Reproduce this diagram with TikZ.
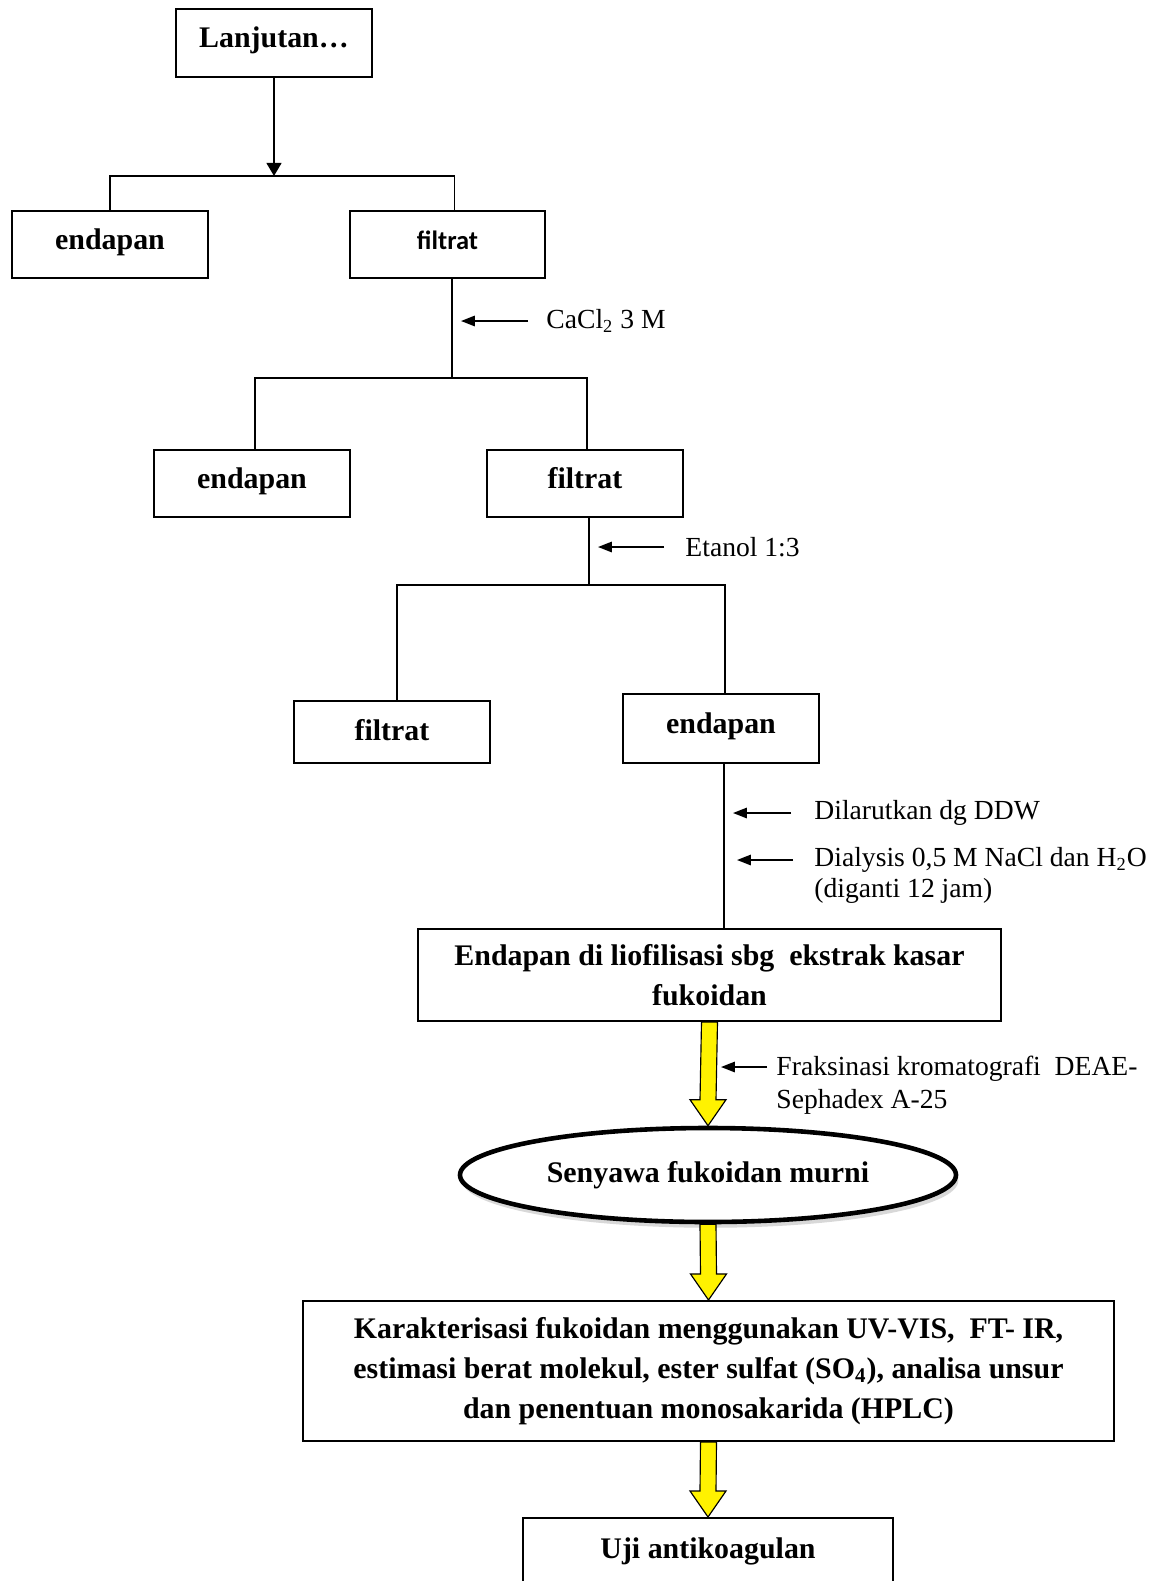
\documentclass[tikz,border=0pt]{standalone}
\usepackage{fontspec}
\setmainfont{Liberation Serif}
\newfontfamily\calibri{Carlito}
\usetikzlibrary{shapes.geometric, arrows.meta, positioning, shadows}
\newdimen\pxu
\pxu=0.4348pt

\newcommand{\yellowarrow}[2]{%
  \draw[yarrow] ([xshift=-8\pxu]#1) -- ([xshift=-8\pxu,yshift=26\pxu]#2) -- ([xshift=-18\pxu,yshift=26\pxu]#2) -- (#2)
    -- ([xshift=18\pxu,yshift=26\pxu]#2) -- ([xshift=8\pxu,yshift=26\pxu]#2) -- ([xshift=8\pxu]#1) -- cycle;}

\begin{document}
\begin{tikzpicture}[
    x=0.4348pt, y=-0.4348pt,
    box/.style={rectangle, draw, line width=0.9pt, inner sep=0pt, font=\bfseries\fontsize{13}{17.4}\selectfont, text height=9pt, text depth=5pt},
    bigbox/.style={rectangle, draw, line width=0.9pt, inner sep=0pt, align=center, font=\bfseries\fontsize{13}{17.4}\selectfont},
    note/.style={anchor=west, inner sep=0pt, align=left, font=\fontsize{12}{13.5}\selectfont},
    arrow/.style={-{Triangle[length=5.7pt,width=6.5pt]}, line width=0.75pt},
    sidearrow/.style={-{Triangle[length=6pt,width=4.5pt]}, line width=0.75pt},
    line/.style={line width=0.75pt},
    yarrow/.style={draw, fill=yellow, line width=0.5pt}
]
\fill[white] (0,0) rectangle (1157,1581);
\clip (0,0) rectangle (1157,1581);

\node[box, minimum width=196\pxu, minimum height=68\pxu] (lanjut) at (274,43) {Lanjutan…};
\node[box, minimum width=196\pxu, minimum height=67\pxu] (endapan1) at (110,244.5) {endapan};
\node[box, minimum width=195\pxu, minimum height=67\pxu, font=\calibri\bfseries\fontsize{11.5}{14}\selectfont] (filtrat1) at (447.5,244.5) {filtrat};
\node[box, minimum width=196\pxu, minimum height=67\pxu] (endapan2) at (252,483.5) {endapan};
\node[box, minimum width=196\pxu, minimum height=67\pxu] (filtrat2) at (585,483.5) {filtrat};
\node[box, minimum width=196\pxu, minimum height=62\pxu, text depth=2pt] (filtrat3) at (392,732) {filtrat};
\node[box, minimum width=196\pxu, minimum height=69\pxu] (endapan3) at (721,728.5) {endapan};
\node[bigbox, minimum width=583\pxu, minimum height=92\pxu] (liofil) at (709.5,975) {Endapan di liofilisasi sbg\ \ ekstrak kasar\\fukoidan};
\node[ellipse, draw, line width=2pt, fill=white, minimum width=496\pxu, minimum height=94\pxu, inner sep=0pt,
      font=\bfseries\fontsize{13}{16}\selectfont, drop shadow={shadow xshift=1pt, shadow yshift=-2.5pt, fill=gray!60}] (murni) at (708,1175) {Senyawa fukoidan murni};
\node[bigbox, minimum width=811\pxu, minimum height=140\pxu] (karak) at (708.5,1371) {Karakterisasi fukoidan menggunakan UV-VIS,\ \ FT- IR,\\estimasi berat molekul, ester sulfat (SO\textsubscript{4}), analisa unsur\\dan penentuan monosakarida (HPLC)};
\node[box, anchor=north, minimum width=370\pxu, text height=40\pxu, text depth=80\pxu] (uji) at (708,1517) {Uji antikoagulan};

% side notes
\node[note] (cacl) at (546,321) {CaCl\textsubscript{2} 3 M};
\node[note] (etanol) at (685,547) {Etanol 1:3};
\node[note] (larut) at (814,813) {Dilarutkan dg DDW};
\node[note, anchor=north west] (dialisis) at (814,847) {Dialysis 0,5 M NaCl dan H\textsubscript{2}O\\(diganti 12 jam)};
\node[note, anchor=north west, font=\fontsize{12}{14.3}\selectfont] (fraksi) at (776,1056) {Fraksinasi kromatografi\ \ DEAE-\\Sephadex A-25};

% splits
\coordinate (split1) at (274,176);
\coordinate (split2) at (452,378);
\coordinate (split3) at (589,585);
\coordinate (dial) at ([yshift=-13\pxu]dialisis.north west);
\coordinate (frak) at ([yshift=-11\pxu]fraksi.north west);

\draw[arrow] (lanjut) -- (split1);
\draw[line] (endapan1.north) |- (split1) -| ([xshift=7\pxu]filtrat1.north);
\draw[line] (filtrat1.south -| split2) -- (split2);
\draw[line] ([xshift=3\pxu]endapan2.north) |- (split2) -| ([xshift=2\pxu]filtrat2.north);
\draw[line] (filtrat2.south -| split3) -- (split3);
\draw[line] ([xshift=5\pxu]filtrat3.north) |- (split3) -| ([xshift=4\pxu]endapan3.north);
\draw[line] ([xshift=3\pxu]endapan3.south) -- ([xshift=3\pxu]endapan3.south |- liofil.north);

\draw[sidearrow, shorten <=18\pxu, shorten >=9\pxu] (cacl.west) -- (cacl.west -| split2);
\draw[sidearrow, shorten <=21\pxu, shorten >=9\pxu] (etanol.west) -- (etanol.west -| split3);
\draw[sidearrow, shorten <=23\pxu, shorten >=9\pxu] (larut.west) -- ([xshift=3\pxu]larut.west -| endapan3.south);
\draw[sidearrow, shorten <=21\pxu, shorten >=13\pxu] (dial) -- ([xshift=3\pxu]dial -| endapan3.south);
\draw[sidearrow, shorten <=9\pxu, shorten >=11.5\pxu] (frak) -- (frak -| liofil.south);

\yellowarrow{liofil.south}{murni.north}
\yellowarrow{murni.south}{karak.north}
\yellowarrow{karak.south}{uji.north}

\end{tikzpicture}
\end{document}
